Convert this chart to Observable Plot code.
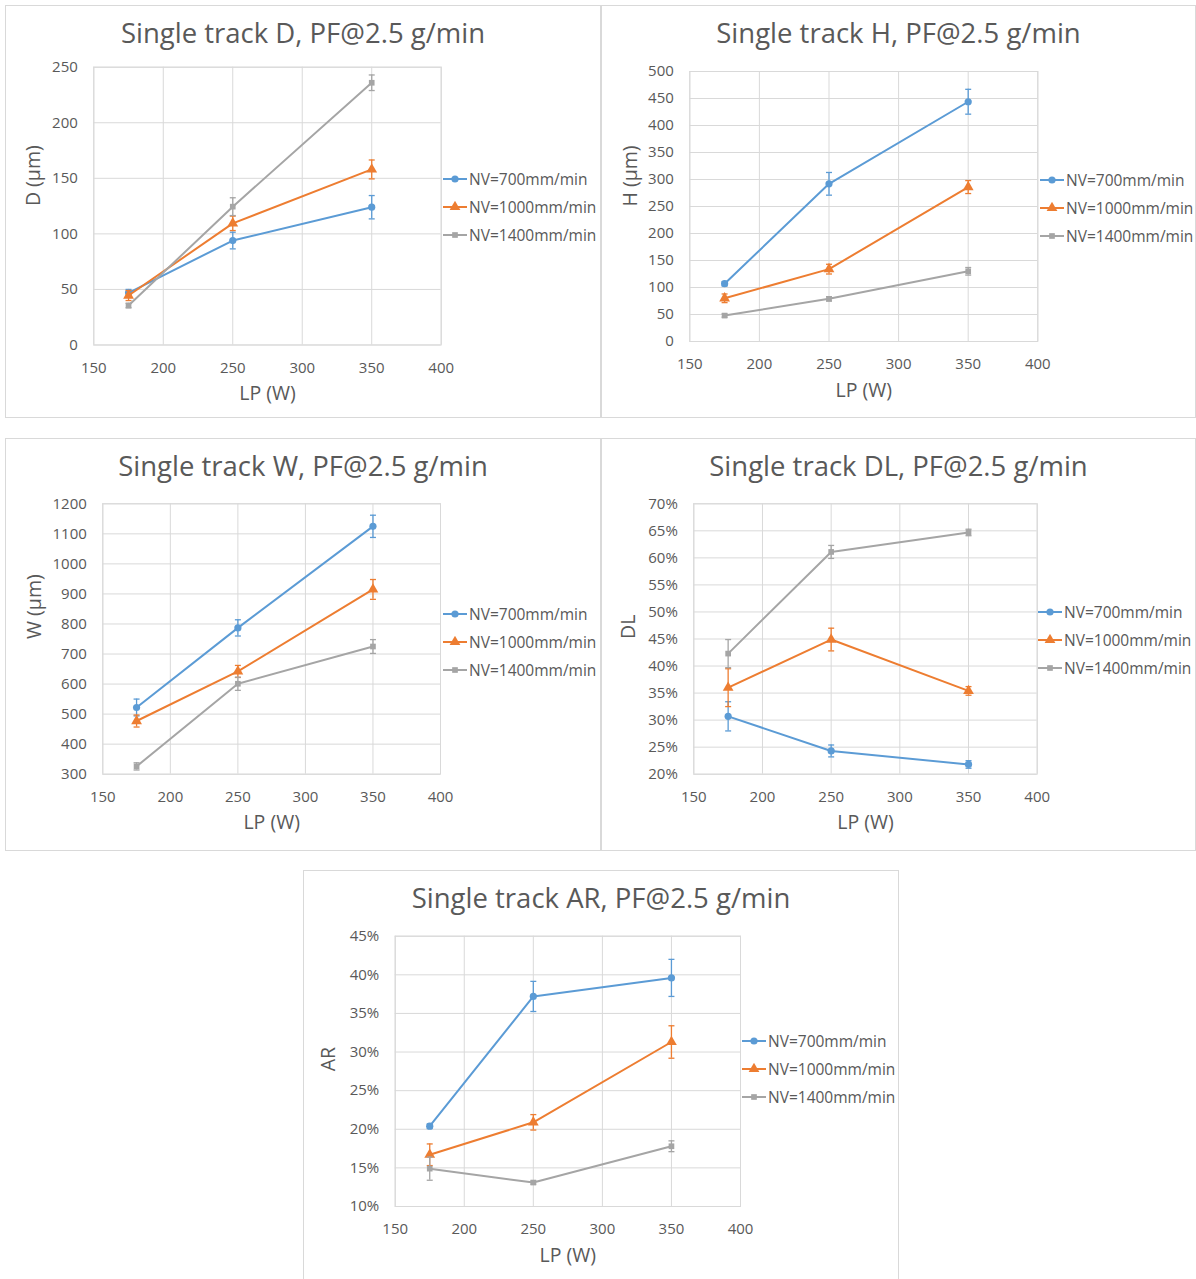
<!DOCTYPE html>
<html>
<head>
<meta charset="utf-8">
<script src="https://cdn.jsdelivr.net/npm/d3@7"></script>
<script src="https://cdn.jsdelivr.net/npm/@observablehq/plot@0.6"></script>
<style>
  html, body { margin: 0; padding: 0; background: #fff; }
  #root { position: relative; width: 1196px; height: 1279px; overflow: hidden; background: #fff; font-family: "Open Sans", sans-serif; color: #595959; }
  .panel { position: absolute; box-sizing: border-box; border: 1px solid #d9d9d9; background: #fff; }
  .title { position: absolute; text-align: center; font-size: 27.5px; line-height: 32px; color: #595959; white-space: nowrap; }
  .leg { position: absolute; font-size: 15.5px; color: #595959; white-space: nowrap; }
  .leg .row { display: flex; align-items: center; height: 28px; }
  .leg svg { margin-right: 2px; }
  svg.plot { position: absolute; }
</style>
</head>
<body>
<div id="root"></div>
<script>
// ---------- data ----------
const lp = [175, 250, 350];                       // laser power (W)
const series = ["NV=700mm/min", "NV=1000mm/min", "NV=1400mm/min"];
const xTicks = [150, 200, 250, 300, 350, 400];

// D (µm)
const D_700 = [47, 94, 124],      D_700_err = [3, 7.5, 10.5];
const D_1000 = [44.5, 109.5, 158], D_1000_err = [4.5, 6.5, 8.5];
const D_1400 = [35.5, 124.5, 236], D_1400_err = [2, 8, 7];
// H (µm)
const H_700 = [107, 292, 444],    H_700_err = [4, 21, 23];
const H_1000 = [80, 134, 286],    H_1000_err = [8, 9, 12];
const H_1400 = [48, 79, 130],     H_1400_err = [3, 4, 7];
// W (µm)
const W_700 = [522, 787, 1125],   W_700_err = [28, 27, 37];
const W_1000 = [477, 642, 915],   W_1000_err = [20, 20, 33];
const W_1400 = [326, 601, 725],   W_1400_err = [12, 22, 23];
// DL (%)
const DL_700 = [30.7, 24.3, 21.8],  DL_700_err = [2.7, 1.1, 0.7];
const DL_1000 = [36.0, 44.9, 35.4], DL_1000_err = [3.5, 2.1, 0.8];
const DL_1400 = [42.3, 61.1, 64.7], DL_1400_err = [2.6, 1.2, 0.6];
// AR (%)
const AR_700 = [20.4, 37.2, 39.6],  AR_700_err = [0.3, 1.95, 2.4];
const AR_1000 = [16.7, 20.9, 31.3], AR_1000_err = [1.4, 1.0, 2.1];
const AR_1400 = [14.9, 13.1, 17.8], AR_1400_err = [1.5, 0.2, 0.7];

// ---------- styles ----------
const colors = ["#5B9BD5", "#ED7D31", "#A5A5A5"];
const symbols = ["circle", "triangle", "square"];
const symR = [3.6, 4.0, 3.2];

const panels = [
  {title: "Single track D, PF@2.5 g/min", ylabel: "D (µm)", rect: [5, 5, 596, 413], plot: [93.3, 440.7, 66.7, 344.5],
   ydom: [0, 250], ystep: 50, pct: false, ylabOff: 60, legend: [443, 179],
   values: [D_700, D_1000, D_1400], errors: [D_700_err, D_1000_err, D_1400_err]},
  {title: "Single track H, PF@2.5 g/min", ylabel: "H (µm)", rect: [601, 5, 595, 413], plot: [689.3, 1037.3, 71, 341],
   ydom: [0, 500], ystep: 50, pct: false, ylabOff: 59, legend: [1040, 180],
   values: [H_700, H_1000, H_1400], errors: [H_700_err, H_1000_err, H_1400_err]},
  {title: "Single track W, PF@2.5 g/min", ylabel: "W (µm)", rect: [5, 438, 596, 413], plot: [102.3, 440, 503.3, 773.7],
   ydom: [300, 1200], ystep: 100, pct: false, ylabOff: 68, legend: [443, 614],
   values: [W_700, W_1000, W_1400], errors: [W_700_err, W_1000_err, W_1400_err]},
  {title: "Single track DL, PF@2.5 g/min", ylabel: "DL", rect: [601, 438, 595, 413], plot: [693.3, 1036.7, 503.3, 773.7],
   ydom: [20, 70], ystep: 5, pct: true, ylabOff: 65, legend: [1038, 612],
   values: [DL_700, DL_1000, DL_1400], errors: [DL_700_err, DL_1000_err, DL_1400_err]},
  {title: "Single track AR, PF@2.5 g/min", ylabel: "AR", rect: [303, 870, 596, 410], plot: [394.7, 740, 935.7, 1206],
   ydom: [10, 45], ystep: 5, pct: true, ylabOff: 66, legend: [742, 1041],
   values: [AR_700, AR_1000, AR_1400], errors: [AR_700_err, AR_1000_err, AR_1400_err]}
];

const capSymbol = {
  draw(ctx, size) { const r = Math.sqrt(size / Math.PI); ctx.moveTo(-r, 0); ctx.lineTo(r, 0); }
};

const root = document.getElementById("root");

function swatch(i) {
  const ns = "http://www.w3.org/2000/svg";
  const s = document.createElementNS(ns, "svg");
  s.setAttribute("width", 24); s.setAttribute("height", 12);
  const l = document.createElementNS(ns, "line");
  l.setAttribute("x1", 0); l.setAttribute("x2", 24); l.setAttribute("y1", 6); l.setAttribute("y2", 6);
  l.setAttribute("stroke", colors[i]); l.setAttribute("stroke-width", 2);
  s.appendChild(l);
  const p = document.createElementNS(ns, "path");
  const sym = [d3.symbolCircle, d3.symbolTriangle, d3.symbolSquare][i];
  p.setAttribute("d", d3.symbol(sym, Math.PI * symR[i] * symR[i])());
  p.setAttribute("transform", "translate(12,6)");
  p.setAttribute("fill", colors[i]);
  s.appendChild(p);
  return s;
}

panels.forEach(p => {
  const [rx, ry, rw, rh] = p.rect;
  const box = document.createElement("div");
  box.className = "panel";
  Object.assign(box.style, {left: rx + "px", top: ry + "px", width: rw + "px", height: rh + "px"});
  root.appendChild(box);

  const t = document.createElement("div");
  t.className = "title";
  t.textContent = p.title;
  Object.assign(t.style, {left: rx + "px", top: (ry + 12) + "px", width: rw + "px"});
  root.appendChild(t);

  const top = ry + 50;
  const W = rw, H = rh - 52;
  const [x0, x1, y0, y1] = p.plot;
  const yTicks = d3.range(p.ydom[0], p.ydom[1] + 1e-9, p.ystep);

  const rows = [];
  series.forEach((s, si) => lp.forEach((x, i) =>
    rows.push({series: s, si, lp: x, v: p.values[si][i], e: p.errors[si][i]})));

  const marks = [
    Plot.gridX(xTicks, {stroke: "#d9d9d9", strokeOpacity: 1, strokeWidth: 1}),
    Plot.gridY(yTicks, {stroke: "#d9d9d9", strokeOpacity: 1, strokeWidth: 1}),
    Plot.frame({stroke: "#d9d9d9", strokeWidth: 1}),
    Plot.axisX(xTicks, {tickSize: 0, tickPadding: 17, label: null, fill: "#595959", fontSize: 15}),
    Plot.axisY(yTicks, {tickSize: 0, tickPadding: 16, label: null, fill: "#595959", fontSize: 15,
      tickFormat: p.pct ? (d => d + "%") : (d => String(d))}),
    Plot.text([p.ylabel], {text: d => d, frameAnchor: "left", dx: -p.ylabOff, rotate: -90, fontSize: 19.5, fill: "#595959"}),
    Plot.text(["LP (W)"], {text: d => d, frameAnchor: "bottom", dy: 55, fontSize: 19.5, fill: "#595959"})
  ];
  series.forEach((s, si) => {
    const d = rows.filter(r => r.si === si);
    marks.push(Plot.line(d, {x: "lp", y: "v", stroke: colors[si], strokeWidth: 2}));
    marks.push(Plot.ruleX(d, {x: "lp", y1: r => r.v - r.e, y2: r => r.v + r.e, stroke: colors[si], strokeWidth: 1.3}));
    marks.push(Plot.dot(d, {x: "lp", y: r => r.v - r.e, symbol: capSymbol, r: 3, stroke: colors[si], fill: "none", strokeWidth: 1.3}));
    marks.push(Plot.dot(d, {x: "lp", y: r => r.v + r.e, symbol: capSymbol, r: 3, stroke: colors[si], fill: "none", strokeWidth: 1.3}));
    marks.push(Plot.dot(d, {x: "lp", y: "v", symbol: symbols[si], r: symR[si], fill: colors[si], stroke: "none"}));
  });

  const svg = Plot.plot({
    width: W, height: H,
    marginLeft: x0 - rx, marginRight: rx + W - x1,
    marginTop: y0 - top, marginBottom: top + H - y1,
    x: {domain: [150, 400]},
    y: {domain: p.ydom},
    style: {fontFamily: "Open Sans", fontSize: "15px", color: "#595959", background: "transparent", overflow: "visible"},
    marks
  });
  svg.classList.add("plot");
  Object.assign(svg.style, {left: rx + "px", top: top + "px"});
  root.appendChild(svg);

  const leg = document.createElement("div");
  leg.className = "leg";
  Object.assign(leg.style, {left: p.legend[0] + "px", top: (p.legend[1] - 14) + "px"});
  series.forEach((s, si) => {
    const row = document.createElement("div");
    row.className = "row";
    row.appendChild(swatch(si));
    const sp = document.createElement("span");
    sp.textContent = s;
    row.appendChild(sp);
    leg.appendChild(row);
  });
  root.appendChild(leg);
});
</script>
</body>
</html>
